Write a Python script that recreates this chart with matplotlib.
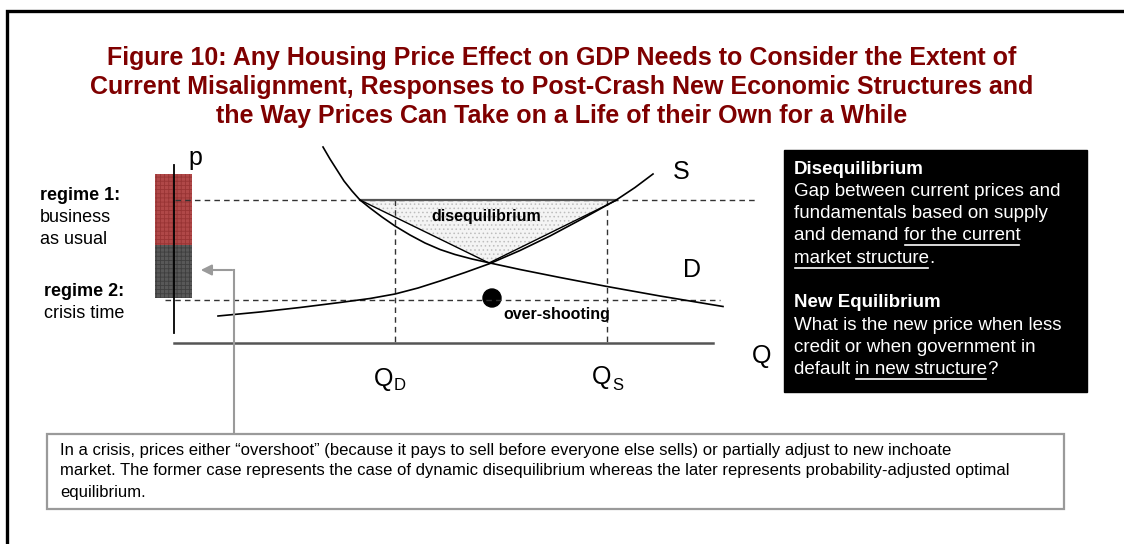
import matplotlib
matplotlib.use("Agg")
import matplotlib.pyplot as plt
from matplotlib.patches import Rectangle, Polygon, Circle
import numpy as np

plt.rcParams['font.family'] = ['Liberation Sans', 'DejaVu Sans']
plt.rcParams['hatch.linewidth'] = 0.6

# ---- diagram data (page pixel coordinates, y grows downward) ----
title_lines = [
    "Figure 10: Any Housing Price Effect on GDP Needs to Consider the Extent of",
    "Current Misalignment, Responses to Post-Crash New Economic Structures and",
    "the Way Prices Can Take on a Life of their Own for a While",
]
demand_q = [323, 330, 337, 344, 352, 360, 370, 382, 395, 410, 425, 440, 455, 472, 490,
            520, 560, 607, 660, 723]
demand_p = [147, 159, 170, 181, 191, 200, 208, 217, 226, 235, 243, 249.5, 254.5, 259, 263,
            269.5, 277.5, 286.5, 296, 306.5]
supply_q = [218, 260, 300, 340, 370, 395, 418, 440, 465, 490, 520, 550, 580, 600, 617, 635, 653]
supply_p = [316, 312, 307.5, 302.5, 298.5, 294, 288, 281, 272.5, 263.5, 250.5, 236, 220,
            209, 199.5, 187.5, 174]
gap_q = [360, 617, 489]
gap_p = [200, 200, 263]
price_levels = [200, 300]          # regime 1 / regime 2 price
quantity_levels = [395, 607]       # Q_D, Q_S
overshoot = (492, 298)

box_lines = [
    [("Disequilibrium", "b", False)],
    [("Gap between current prices and", "n", False)],
    [("fundamentals based on supply", "n", False)],
    [("and demand ", "n", False), ("for the current", "n", True)],
    [("market structure", "n", True), (".", "n", False)],
    [],
    [("New Equilibrium", "b", False)],
    [("What is the new price when less", "n", False)],
    [("credit or when government in", "n", False)],
    [("default ", "n", False), ("in new structure", "n", True), ("?", "n", False)],
]
note_lines = [
    "In a crisis, prices either \u201covershoot\u201d (because it pays to sell before everyone else sells) or partially adjust to new inchoate",
    "market. The former case represents the case of dynamic disequilibrium whereas the later represents probability-adjusted optimal",
    "equilibrium.",
]

fig = plt.figure(figsize=(11.24, 5.44), dpi=100)
ax = fig.add_axes([0, 0, 1, 1])
ax.set_xlim(0, 1124)
ax.set_ylim(544, 0)
ax.axis('off')

# page frame (left + top)
ax.plot([7, 7, 1124], [544, 11, 11], color='black', lw=2.4, solid_joinstyle='miter')

# title
for i, line in enumerate(title_lines):
    ax.text(562, 58 + i * 29, line, ha='center', va='center', fontsize=18,
            fontweight='bold', color='#7f0000')

# regime bar
ax.add_patch(Rectangle((155, 174), 37, 71, facecolor='#b04848', edgecolor='#983434',
                       hatch='++++', lw=0))
ax.add_patch(Rectangle((155, 245), 37, 53, facecolor='#585858', edgecolor='#3e3e3e',
                       hatch='++++', lw=0))

# axes of the diagram
ax.plot([174, 174], [165, 333], color='black', lw=1.3)
ax.plot([174, 713], [343, 343], color='#555555', lw=1.8)

# dashed guides
dash = dict(color='#333333', lw=1.0, dashes=(4, 3))
ax.plot([175, 755], [price_levels[0]] * 2, **dash)
ax.plot([165, 720], [price_levels[1]] * 2, **dash)
for q in quantity_levels:
    ax.plot([q, q], [price_levels[0], 343], **dash)

# disequilibrium triangle
ax.add_patch(Polygon(np.column_stack([gap_q, gap_p]), closed=True, facecolor='#f4f4f4',
                     edgecolor='#bdbdbd', hatch='....', lw=0))
ax.plot([gap_q[0], gap_q[1]], [gap_p[0], gap_p[1]], color='#555555', lw=1.6)
ax.plot([gap_q[0], gap_q[2], gap_q[1]], [gap_p[0], gap_p[2], gap_p[1]], color='black', lw=1.0)

# demand & supply curves
ax.plot(demand_q, demand_p, color='black', lw=1.2)
ax.plot(supply_q, supply_p, color='black', lw=1.2)

# over-shooting point
ax.add_patch(Circle(overshoot, 9, color='black'))
ax.text(503, 314, "over-shooting", fontsize=11.5, fontweight='bold', va='center', ha='left')
ax.text(486, 216, "disequilibrium", fontsize=11.5, fontweight='bold', va='center', ha='center')

# axis letters
ax.text(195, 158, "p", fontsize=18, ha='center', va='center')
ax.text(681, 172, "S", fontsize=18, ha='center', va='center')
ax.text(692, 270, "D", fontsize=18, ha='center', va='center')
ax.text(762, 356, "Q", fontsize=18, ha='center', va='center')
ax.text(384, 379, "Q", fontsize=18, ha='center', va='center')
ax.text(400, 386, "D", fontsize=12, ha='center', va='center')
ax.text(602, 377, "Q", fontsize=18, ha='center', va='center')
ax.text(618, 385, "S", fontsize=12, ha='center', va='center')

# regime labels
ax.text(40, 195, "regime 1:", fontsize=13, fontweight='bold', va='center')
ax.text(40, 218, "business", fontsize=13, va='center')
ax.text(40, 240, "as usual", fontsize=13, va='center')
ax.text(44, 292, "regime 2:", fontsize=13, fontweight='bold', va='center')
ax.text(44, 313, "crisis time", fontsize=13, va='center')

# black explanation box
ax.add_patch(Rectangle((784, 150), 303, 242, facecolor='black', edgecolor='black'))
fig.canvas.draw()
renderer = fig.canvas.get_renderer()
inv = ax.transData.inverted()
for i, segs in enumerate(box_lines):
    y = 169 + i * 22.3
    x = 794
    for txt, weight, uline in segs:
        t = ax.text(x, y, txt, fontsize=13.5, color='white', va='center', ha='left',
                    fontweight='bold' if weight == 'b' else 'normal')
        bb = t.get_window_extent(renderer)
        x1 = inv.transform((bb.x1, bb.y0))[0]
        if uline:
            ax.plot([x + 1, x1 - 1], [y + 9.5, y + 9.5], color='white', lw=1.2)
        x = x1

# note box + arrow
ax.add_patch(Rectangle((47, 434), 1017, 75, facecolor='white', edgecolor='#9a9a9a', lw=1.6))
for i, line in enumerate(note_lines):
    ax.text(60, 450 + i * 21, line, fontsize=12, va='center', ha='left', color='black')
ax.plot([234, 234], [433, 270], color='#9a9a9a', lw=1.5)
ax.annotate("", xy=(198, 270), xytext=(235, 270),
            arrowprops=dict(arrowstyle='-|>', color='#9a9a9a', lw=1.5, mutation_scale=16))

fig.savefig("out.png", dpi=100)
